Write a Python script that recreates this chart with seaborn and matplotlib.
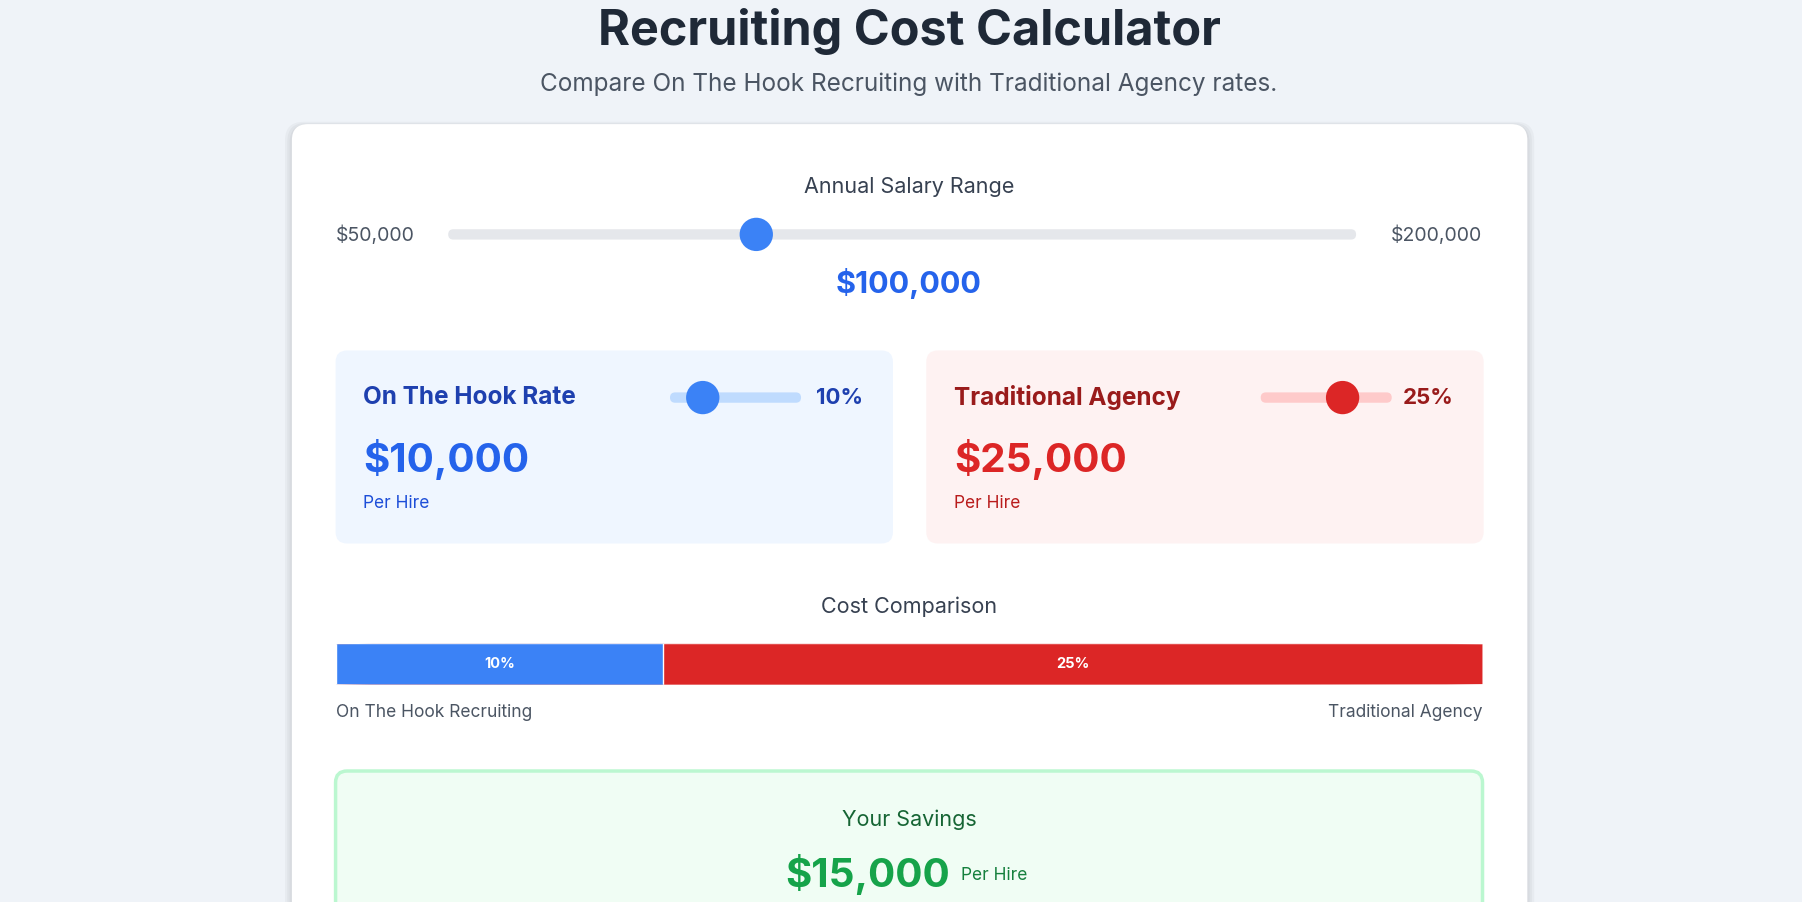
import matplotlib
matplotlib.use("Agg")
import matplotlib.pyplot as plt
from matplotlib.patches import FancyBboxPatch, Circle
import seaborn as sns
import pandas as pd

sns.set_theme(style="white")
plt.rcParams['font.family'] = ['Inter', 'DejaVu Sans']

salary = 100000
salary_min, salary_max = 50000, 200000
hook_rate = 10
agency_rate = 25
rate_max = 40
series = ["On The Hook Recruiting", "Traditional Agency"]
rates = [hook_rate, agency_rate]
hook_cost = salary * hook_rate // 100
agency_cost = salary * agency_rate // 100
savings = agency_cost - hook_cost

W, H = 1568, 785
fig = plt.figure(figsize=(18.02, 9.02), dpi=100)
fig.patch.set_facecolor("#eff3f8")
ax = fig.add_axes([0, 0, 1, 1])
ax.set_xlim(0, W); ax.set_ylim(H, 0); ax.axis("off")

def rbox(x0, y0, x1, y1, fc, ec="none", r=10, lw=0, z=1):
    ax.add_patch(FancyBboxPatch((x0, y0), x1 - x0, y1 - y0, boxstyle=f"round,pad=0,rounding_size={r}",
                                fc=fc, ec=ec, lw=lw, zorder=z))

def txt(x, y, s, size, color, weight="normal", ha="center"):
    ax.text(x, y, s, fontsize=size, color=color, fontweight=weight, ha=ha, va="center", zorder=5)

def slider(x0, x1, y, frac, track, thumb, h=9, r=14.5):
    rbox(x0, y - h / 2, x1, y + h / 2, track, r=h / 2, z=2)
    ax.add_patch(Circle((x0 + (x1 - x0) * frac, y), r, fc=thumb, ec="none", zorder=3))

txt(791, 27, "Recruiting Cost Calculator", 35, "#1f2937", "bold")
txt(791, 73, "Compare On The Hook Recruiting with Traditional Agency rates.", 17.5, "#4b5563")

# shadow + card
for i, a in enumerate([0.03, 0.03, 0.03]):
    rbox(254 - 6 + i * 2, 108 - 2 + i, 1329 + 6 - i * 2, 800, (0, 0, 0, a), r=16, z=0.5)
rbox(254, 108, 1329, 830, "white", r=14, z=1)

txt(791, 163, "Annual Salary Range", 15.5, "#374151")
txt(292, 205, f"${salary_min:,}", 14, "#4b5563", ha="left")
txt(1290, 205, f"${salary_max:,}", 14, "#4b5563", ha="right")
slider(390, 1180, 204, (salary - salary_min) / (salary_max - salary_min) + 0.006, "#e5e7eb", "#3b82f6", h=9)
txt(791, 247, f"${salary:,}", 22, "#2563eb", "bold")

panels = [
    (292, 777, "#eff6ff", "On The Hook Rate", "#1e40af", "#bfdbfe", "#3b82f6", hook_rate, hook_cost, "#2563eb", "#1d4ed8"),
    (806, 1291, "#fef2f2", "Traditional Agency", "#991b1b", "#fecaca", "#dc2626", agency_rate, agency_cost, "#dc2626", "#b91c1c"),
]
for x0, x1, bg, title, tc, tr, th, rate, cost, cc, pc in panels:
    rbox(x0, 305, x1, 473, bg, r=10, z=1.5)
    txt(x0 + 24, 346, title, 17.5, tc, "bold", ha="left")
    slider(x0 + 291, x0 + 405, 346, rate / rate_max, tr, th, h=9)
    txt(x0 + 459, 346, f"{rate}%", 16, tc, "bold", ha="right")
    txt(x0 + 24, 400, f"${cost:,}", 29, cc, "bold", ha="left")
    txt(x0 + 24, 438, "Per Hire", 12.5, pc, ha="left")

txt(791, 528, "Cost Comparison", 15.5, "#374151")

# stacked comparison bar via seaborn
bx = fig.add_axes([292 / W, 1 - 596 / H, 998 / W, 36 / H])
total = sum(rates)
df_tot = pd.DataFrame({"row": ["c"], "val": [total]})
df_hook = pd.DataFrame({"row": ["c"], "val": [rates[0]]})
sns.barplot(data=df_tot, x="val", y="row", orient="h", color="#dc2626", width=1, saturation=1, ax=bx)
sns.barplot(data=df_hook, x="val", y="row", orient="h", color="#3b82f6", width=1, saturation=1, ax=bx)
bx.set_xlim(0, total); bx.set_ylim(0.5, -0.5)
bx.axis("off")
clip = FancyBboxPatch((0, 0), 1, 1, boxstyle="round,pad=0,rounding_size=0.5", transform=bx.transAxes,
                      mutation_aspect=36 / 998, fc="none", ec="none")
bx.add_patch(clip)
for p in bx.patches[:-1]:
    p.set_clip_path(clip)
bx.text(rates[0] / 2, 0, f"{rates[0]}%", color="white", fontsize=10.5, fontweight="bold", ha="center", va="center")
bx.text(rates[0] + rates[1] / 2, 0, f"{rates[1]}%", color="white", fontsize=10.5, fontweight="bold", ha="center", va="center")

txt(292, 620, series[0], 12.5, "#4b5563", ha="left")
txt(1290, 620, series[1], 12.5, "#4b5563", ha="right")

rbox(292, 671, 1290, 830, "#f0fdf4", ec="#bbf7d0", lw=2.5, r=10, z=1.5)
txt(791, 713, "Your Savings", 15.5, "#166534")
txt(755, 761, f"${savings:,}", 29, "#16a34a", "bold")
txt(836, 762, "Per Hire", 12.5, "#15803d", ha="left")

fig.savefig("out.png", dpi=100, facecolor=fig.get_facecolor())
